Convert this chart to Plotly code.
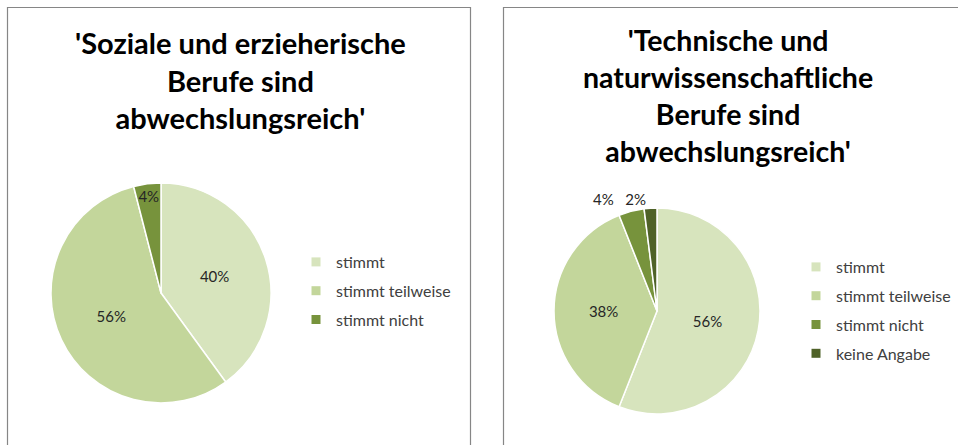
import plotly.graph_objects as go

# ---- data ----
labels_left = ["stimmt", "stimmt teilweise", "stimmt nicht"]
values_left = [40, 56, 4]
labels_right = ["stimmt", "stimmt teilweise", "stimmt nicht", "keine Angabe"]
values_right = [56, 38, 4, 2]
title_left = "'Soziale und erzieherische<br>Berufe sind<br>abwechslungsreich'"
title_right = "'Technische und<br>naturwissenschaftliche<br>Berufe sind<br>abwechslungsreich'"

colors = {"stimmt": "#D7E4BD", "stimmt teilweise": "#C3D69B",
          "stimmt nicht": "#77933C", "keine Angabe": "#4F6228"}

W, H = 958, 445
FONT = "Lato, Open Sans, sans-serif"

def px_x(v):
    return v / W

def px_y(v):
    return 1 - v / H

# slice texts: the two tiny outside slices share one label row above the pie
text_left = [f"{v}%" for v in values_left]
text_right = [f"{v}%" for v in values_right]
text_right[3] = text_right[2] + "\u00a0\u00a0\u00a0" + text_right[3]
text_right[2] = ""

fig = go.Figure()

# left pie: centre (161, 293), radius 110
fig.add_trace(go.Pie(
    labels=labels_left, values=values_left, sort=False, direction="clockwise",
    rotation=0, marker=dict(colors=[colors[l] for l in labels_left],
                            line=dict(color="white", width=1.5)),
    text=text_left, textinfo="text", textposition="inside",
    insidetextorientation="horizontal",
    textfont=dict(family=FONT, size=15, color="#262626"),
    domain=dict(x=[px_x(51), px_x(271)], y=[px_y(403), px_y(183)]),
    showlegend=False, hoverinfo="label+percent",
))

# right pie: centre (657, 311), radius 103
fig.add_trace(go.Pie(
    labels=labels_right, values=values_right, sort=False, direction="clockwise",
    rotation=0, marker=dict(colors=[colors[l] for l in labels_right],
                            line=dict(color="white", width=1.5)),
    text=text_right, textinfo="text",
    textposition=["inside", "inside", "none", "outside"],
    insidetextorientation="horizontal",
    textfont=dict(family=FONT, size=15, color="#262626"),
    domain=dict(x=[px_x(554), px_x(760)], y=[px_y(414), px_y(208)]),
    showlegend=False, hoverinfo="label+percent",
))

# legend proxies
for lab in labels_left:
    fig.add_trace(go.Scatter(x=[None], y=[None], mode="markers", name=lab,
                             marker=dict(symbol="square", size=9, color=colors[lab]),
                             legend="legend", legendgroup="L" + lab, showlegend=True))
for lab in labels_right:
    fig.add_trace(go.Scatter(x=[None], y=[None], mode="markers", name=lab,
                             marker=dict(symbol="square", size=9, color=colors[lab]),
                             legend="legend2", legendgroup="R" + lab, showlegend=True))

legend_common = dict(font=dict(family=FONT, size=16, color="#404040"),
                     bgcolor="rgba(0,0,0,0)", tracegroupgap=5,
                     itemclick=False, itemdoubleclick=False,
                     xanchor="left", yanchor="top", itemwidth=30)

fig.update_layout(
    width=W, height=H, margin=dict(l=0, r=0, t=0, b=0),
    paper_bgcolor="white", plot_bgcolor="white",
    xaxis=dict(visible=False), yaxis=dict(visible=False),
    uniformtext=dict(minsize=15, mode="show"),
    legend=dict(x=px_x(296), y=px_y(245), **legend_common),
    legend2=dict(x=px_x(796), y=px_y(250), **legend_common),
    shapes=[
        dict(type="rect", xref="paper", yref="paper",
             x0=px_x(7.5), x1=px_x(470.5), y0=-0.2, y1=px_y(7.5),
             line=dict(color="#868686", width=1.2), fillcolor="rgba(0,0,0,0)"),
        dict(type="rect", xref="paper", yref="paper",
             x0=px_x(503.5), x1=1.2, y0=-0.2, y1=px_y(7.5),
             line=dict(color="#868686", width=1.2), fillcolor="rgba(0,0,0,0)"),
    ],
    annotations=[
        dict(text="<b>" + title_left + "</b>", xref="paper", yref="paper",
             x=px_x(240), y=px_y(23), xanchor="center", yanchor="top",
             showarrow=False, align="center",
             font=dict(family=FONT, size=29, color="black")),
        dict(text="<b>" + title_right + "</b>", xref="paper", yref="paper",
             x=px_x(728), y=px_y(21), xanchor="center", yanchor="top",
             showarrow=False, align="center",
             font=dict(family=FONT, size=28.5, color="black")),
    ],
)

fig.write_html("out.html", config={"displayModeBar": False},
               post_script="document.body.style.margin='0px';")
